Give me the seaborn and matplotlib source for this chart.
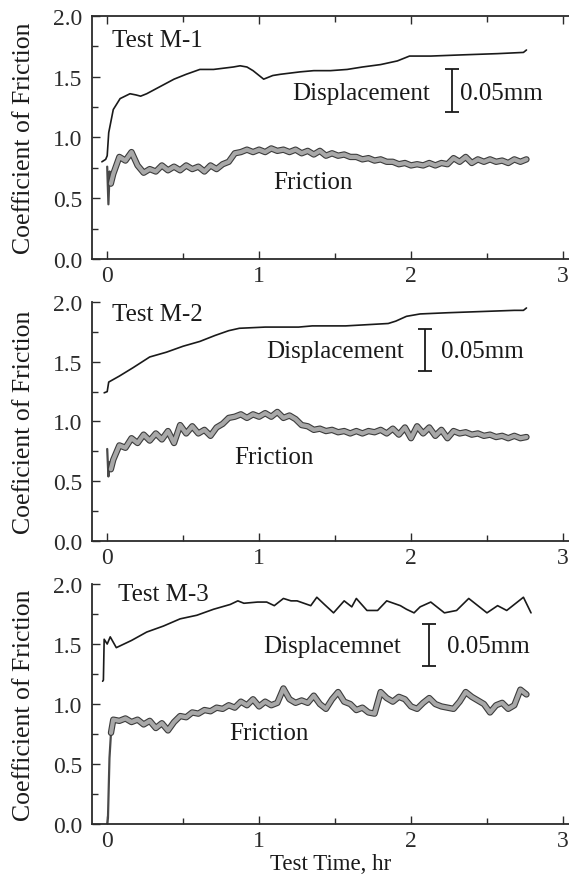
import numpy as np
import pandas as pd
import seaborn as sns
import matplotlib.pyplot as plt
import matplotlib.patheffects as pe
from matplotlib.ticker import MultipleLocator

# ---- data (time in hr, values in friction units) ----
titles = ["Test M-1", "Test M-2", "Test M-3"]
ylabels = ["Coefficient of Friction", "Coeficient of Friction", "Coefficient of Friction"]
disp_labels = ["Displacement", "Displacement", "Displacemnet"]
scale_label = "0.05mm"

# displacement traces
t1_disp = [-0.035, -0.01, 0.0, 0.01, 0.04, 0.085, 0.15, 0.19, 0.22, 0.26, 0.35, 0.44, 0.52,
           0.61, 0.70, 0.83, 0.875, 0.92, 0.96, 1.03, 1.09, 1.14, 1.27, 1.36, 1.47, 1.58,
           1.68, 1.80, 1.91, 1.99, 2.13, 2.34, 2.57, 2.74, 2.76]
v1_disp = [0.80, 0.82, 0.85, 1.04, 1.23, 1.32, 1.36, 1.35, 1.34, 1.36, 1.42, 1.48, 1.52,
           1.56, 1.56, 1.58, 1.59, 1.58, 1.55, 1.48, 1.51, 1.52, 1.54, 1.55, 1.55, 1.56,
           1.58, 1.60, 1.63, 1.67, 1.67, 1.68, 1.69, 1.70, 1.72]

t2_disp = [-0.02, 0.0, 0.01, 0.08, 0.17, 0.28, 0.39, 0.50, 0.61, 0.71, 0.80, 0.87, 1.04,
           1.26, 1.35, 1.57, 1.85, 1.90, 1.97, 2.06, 2.24, 2.46, 2.68, 2.74, 2.76]
v2_disp = [1.24, 1.25, 1.33, 1.38, 1.45, 1.54, 1.58, 1.63, 1.67, 1.72, 1.76, 1.78, 1.79,
           1.79, 1.80, 1.80, 1.82, 1.84, 1.88, 1.90, 1.91, 1.92, 1.93, 1.93, 1.95]

t3_disp = [-0.03, -0.025, -0.02, 0.0, 0.02, 0.06, 0.16, 0.26, 0.37, 0.48, 0.59, 0.70, 0.81,
           0.86, 0.90, 0.99, 1.05, 1.10, 1.16, 1.21, 1.25, 1.34, 1.38, 1.43, 1.49, 1.56,
           1.61, 1.64, 1.71, 1.78, 1.84, 1.93, 1.97, 2.02, 2.06, 2.13, 2.22, 2.30, 2.38,
           2.43, 2.50, 2.57, 2.63, 2.70, 2.74, 2.79]
v3_disp = [1.19, 1.20, 1.54, 1.50, 1.56, 1.47, 1.53, 1.60, 1.65, 1.71, 1.74, 1.79, 1.83,
           1.86, 1.84, 1.85, 1.85, 1.82, 1.88, 1.86, 1.86, 1.82, 1.89, 1.83, 1.76, 1.86,
           1.81, 1.88, 1.78, 1.78, 1.86, 1.82, 1.79, 1.76, 1.81, 1.85, 1.76, 1.78, 1.88,
           1.83, 1.76, 1.82, 1.78, 1.85, 1.89, 1.76]

# friction traces: start-up transient, then samples every 0.04 hr up to 2.76 hr
t_start = [[0.0, 0.008, 0.016, 0.024],
           [0.0, 0.008, 0.016, 0.024],
           [0.0, 0.005, 0.015, 0.025]]
v_start = [[0.76, 0.45, 0.72, 0.62],
           [0.77, 0.54, 0.66, 0.60],
           [0.0, 0.05, 0.55, 0.76]]
t_body = np.round(np.arange(0.04, 2.761, 0.04), 2)

v1_fric = [0.70, 0.84, 0.81, 0.88, 0.77, 0.71, 0.74, 0.72, 0.77, 0.73, 0.76, 0.73, 0.77,
           0.74, 0.76, 0.72, 0.77, 0.74, 0.78, 0.80, 0.87, 0.88, 0.90, 0.88, 0.90, 0.88,
           0.91, 0.89, 0.90, 0.88, 0.90, 0.87, 0.89, 0.86, 0.89, 0.85, 0.87, 0.85, 0.86,
           0.84, 0.84, 0.82, 0.83, 0.81, 0.82, 0.80, 0.80, 0.78, 0.79, 0.77, 0.78, 0.77,
           0.79, 0.77, 0.79, 0.78, 0.83, 0.80, 0.84, 0.79, 0.82, 0.80, 0.82, 0.80, 0.81,
           0.79, 0.82, 0.80, 0.82]
v2_fric = [0.68, 0.80, 0.78, 0.86, 0.82, 0.89, 0.84, 0.90, 0.85, 0.92, 0.82, 0.97, 0.90,
           0.96, 0.90, 0.93, 0.88, 0.95, 0.98, 1.03, 1.04, 1.06, 1.03, 1.06, 1.04, 1.07,
           1.04, 1.08, 1.03, 1.05, 1.02, 0.97, 0.96, 0.93, 0.94, 0.92, 0.93, 0.91, 0.92,
           0.90, 0.92, 0.90, 0.92, 0.91, 0.93, 0.90, 0.94, 0.89, 0.95, 0.86, 0.96, 0.90,
           0.95, 0.88, 0.93, 0.86, 0.92, 0.90, 0.91, 0.89, 0.90, 0.88, 0.89, 0.87, 0.88,
           0.86, 0.88, 0.86, 0.87]
v3_fric = [0.87, 0.86, 0.88, 0.85, 0.87, 0.83, 0.86, 0.80, 0.84, 0.78, 0.85, 0.90, 0.89,
           0.93, 0.92, 0.95, 0.94, 0.97, 0.96, 0.99, 0.97, 1.02, 0.99, 1.04, 0.98, 1.02,
           0.99, 1.01, 1.13, 1.04, 1.01, 1.03, 1.01, 1.07, 1.00, 0.96, 1.04, 1.10, 1.02,
           1.00, 0.95, 0.97, 0.93, 0.92, 1.10, 1.05, 1.02, 1.06, 1.04, 0.98, 0.96, 1.01,
           1.05, 1.00, 0.98, 0.97, 0.96, 1.02, 1.10, 1.06, 1.03, 1.00, 0.93, 0.99, 1.01,
           0.96, 0.99, 1.12, 1.08]

disp_t = [t1_disp, t2_disp, t3_disp]
disp_v = [v1_disp, v2_disp, v3_disp]
fric_v = [v1_fric, v2_fric, v3_fric]

# ---- layout (annotation positions in data coords) ----
title_pos = [(0.03, 1.80), (0.03, 1.90), (0.07, 1.92)]
disp_pos = [(1.22, 1.37), (1.05, 1.59), (1.03, 1.48)]
bar_pos = [(2.27, 1.385), (2.09, 1.595), (2.12, 1.49)]
mm_pos = [(2.32, 1.37), (2.20, 1.59), (2.24, 1.48)]
fric_pos = [(1.09, 0.63), (0.835, 0.70), (0.80, 0.76)]
rects = [[0.1617, 0.7042, 0.8383, 0.2765],
         [0.1617, 0.3834, 0.8383, 0.2719],
         [0.1617, 0.0614, 0.8383, 0.2730]]

sns.set_style('ticks')
plt.rcParams['font.family'] = 'serif'
plt.rcParams['font.serif'] = ['Liberation Serif', 'DejaVu Serif']
plt.rcParams['axes.edgecolor'] = '#2b2b2b'
plt.rcParams['xtick.color'] = '#2b2b2b'
plt.rcParams['ytick.color'] = '#2b2b2b'

fig = plt.figure(figsize=(5.69, 8.79), dpi=100)
ink = '#1a1a1a'

for i in range(3):
    ax = fig.add_axes(rects[i])

    d = pd.DataFrame({'t': disp_t[i], 'v': disp_v[i]})
    sns.lineplot(data=d, x='t', y='v', ax=ax, color=ink, lw=1.2,
                 estimator=None, sort=False)

    # thin start-up spike, then the wide noisy friction band
    s = pd.DataFrame({'t': t_start[i], 'v': v_start[i]})
    sns.lineplot(data=s, x='t', y='v', ax=ax, color='#4a4a4a', lw=1.6,
                 estimator=None, sort=False)
    f = pd.DataFrame({'t': [t_start[i][-1]] + list(t_body),
                      'v': [v_start[i][-1]] + list(fric_v[i])})
    sns.lineplot(data=f, x='t', y='v', ax=ax, color='#a8a8a8', lw=3.0,
                 estimator=None, sort=False,
                 path_effects=[pe.Stroke(linewidth=4.6, foreground='#3c3c3c'), pe.Normal()])

    ax.errorbar([bar_pos[i][0]], [bar_pos[i][1]], yerr=[0.175], color=ink,
                lw=1.3, capsize=5, capthick=1.3)

    ax.text(*title_pos[i], titles[i], fontsize=18, va='center', ha='left', color=ink)
    ax.text(*disp_pos[i], disp_labels[i], fontsize=18, va='center', ha='left', color=ink)
    ax.text(*mm_pos[i], scale_label, fontsize=18, va='center', ha='left', color=ink)
    ax.text(*fric_pos[i], "Friction", fontsize=18, va='center', ha='left', color=ink)

    ax.set_xlim(-0.1, 3.04)
    ax.set_ylim(0, 2.0)
    ax.xaxis.set_major_locator(MultipleLocator(1))
    ax.xaxis.set_minor_locator(MultipleLocator(0.5))
    ax.yaxis.set_major_locator(MultipleLocator(0.5))
    ax.yaxis.set_minor_locator(MultipleLocator(0.25))
    ax.yaxis.set_major_formatter(lambda v, p: f"{v:.1f}")
    ax.tick_params(which='both', direction='in', labelsize=17, width=1.0)
    ax.tick_params(which='major', length=6)
    ax.tick_params(which='minor', length=4)
    ax.tick_params(axis='y', pad=7)
    ax.tick_params(axis='x', pad=4)
    if i == 0:
        ax.tick_params(axis='x', which='both', top=True)
    else:
        ax.spines['top'].set_visible(False)
    ax.spines['right'].set_visible(False)
    for sp in ax.spines.values():
        sp.set_linewidth(1.3)

    ax.set_ylabel(ylabels[i], fontsize=18.5, color=ink)
    ax.yaxis.set_label_coords(-0.12, 0.5)
    if i == 2:
        ax.set_xlabel("Test Time, hr", fontsize=16.5, color=ink, labelpad=2)
    else:
        ax.set_xlabel("")

fig.savefig('out.png', dpi=100)
plt.close(fig)
